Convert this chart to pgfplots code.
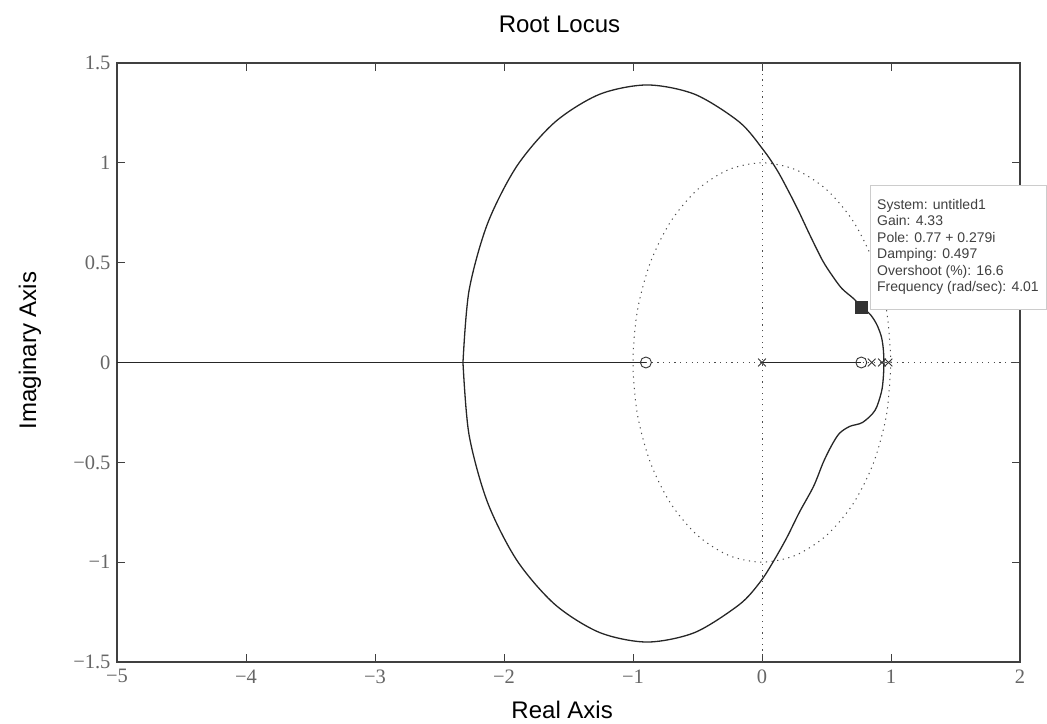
\documentclass[border=0pt]{standalone}
\usepackage{pgfplots}
\pgfplotsset{compat=1.18}
\usepackage{fontspec}
\setmainfont{Liberation Serif}
\newfontfamily\sans{Liberation Sans}
\begin{document}
\begin{tikzpicture}[x=1pt,y=1pt]
\useasboundingbox (-117,-61) rectangle (930,662);
\begin{axis}[
  at={(0,0)}, anchor=south west,
  scale only axis, width=903pt, height=599pt,
  xmin=-5, xmax=2, ymin=-1.5, ymax=1.5,
  xtick={-5,-4,-3,-2,-1,0,1,2},
  ytick={-1.5,-1,-0.5,0,0.5,1,1.5},
  xticklabels={−5,−4,−3,−2,−1,0,1,2},
  yticklabels={−1.5,−1,−0.5,0,0.5,1,1.5},
  tick align=inside, major tick length=8pt,
  ticklabel style={font=\fontsize{20.5}{20.5}\selectfont, text=black!60},
  xticklabel style={yshift=-4pt},
  yticklabel style={xshift=-3pt},
  axis line style={black!75, line width=1.2pt},
  tick style={black!75, line width=0.8pt},
  title={Root Locus},
  title style={font=\sans\fontsize{24}{24}\selectfont, at={(0.49,1)}, anchor=base, yshift=24pt},
  xlabel={Real Axis},
  xlabel style={font=\sans\fontsize{24}{24}\selectfont, at={(0.493,0)}, anchor=base, yshift=-56pt},
  ylabel={Imaginary Axis},
  ylabel style={font=\sans\fontsize{24}{24}\selectfont, at={(0,0.52)}, anchor=center, yshift=87pt},
  clip=false,
]
% dotted guides
\addplot[black!70, line width=1pt, dash pattern=on 1.2pt off 4.5pt] coordinates {(-0.9,0) (2,0)};
\addplot[black!70, line width=1pt, dash pattern=on 1.2pt off 4.5pt] coordinates {(0,-1.5) (0,1.5)};
\addplot[black!70, line width=1pt, dash pattern=on 1.2pt off 4.5pt, smooth] coordinates {
(1,0) (0.966,0.259) (0.866,0.5) (0.707,0.707) (0.5,0.866) (0.259,0.966) (0,1)
(-0.259,0.966) (-0.5,0.866) (-0.707,0.707) (-0.866,0.5) (-0.966,0.259) (-1,0)
(-0.966,-0.259) (-0.866,-0.5) (-0.707,-0.707) (-0.5,-0.866) (-0.259,-0.966) (0,-1)
(0.259,-0.966) (0.5,-0.866) (0.707,-0.707) (0.866,-0.5) (0.966,-0.259) (1,0)};
% real-axis locus
\addplot[black!85, line width=1.3pt] coordinates {(-5,0) (-0.9,0)};
\addplot[black!85, line width=1.3pt] coordinates {(0,0) (0.77,0)};
% complex locus
\addplot[black!85, line width=1.3pt, smooth] coordinates {
(-2.318,0) (-2.271,0.36) (-2.128,0.695) (-1.901,0.983) (-1.605,1.204) (-1.26,1.343)
(-0.89,1.39) (-0.52,1.343) (-0.175,1.204) (0.01,1.065) (0.12,0.96) (0.22,0.84)
(0.29,0.75) (0.37,0.64) (0.47,0.51) (0.55,0.43) (0.62,0.37) (0.71,0.32) (0.77,0.28)
(0.84,0.24) (0.89,0.19) (0.925,0.13) (0.94,0.07) (0.945,0)
(0.94,-0.08) (0.925,-0.15) (0.876,-0.24) (0.78,-0.30) (0.68,-0.32) (0.60,-0.355)
(0.54,-0.415) (0.475,-0.50) (0.40,-0.62) (0.29,-0.75) (0.19,-0.88) (0.085,-1.0)
(-0.015,-1.10) (-0.175,-1.212) (-0.52,-1.352) (-0.89,-1.40) (-1.26,-1.352)
(-1.605,-1.212) (-1.901,-0.99) (-2.128,-0.70) (-2.271,-0.362) (-2.318,0)};
% zeros
\addplot[only marks, mark=o, mark size=5.5pt, black!80, mark options={line width=0.9pt, fill=white}] coordinates {(-0.9,0) (0.77,0)};
% poles
\addplot[only marks, mark=x, mark size=5.5pt, black!80, mark options={line width=0.9pt}] coordinates {(0,0) (0.85,0) (0.93,0) (0.98,0)};
% data tip marker
\addplot[only marks, mark=square*, mark size=6pt, black!80] coordinates {(0.77,0.279)};
\node[anchor=north west, draw=black!20, fill=white, inner xsep=7pt, inner ysep=14pt, align=left,
      font=\sans\fontsize{14}{16.5}\selectfont, text=black!75]
  at (axis cs:0.837,0.889)
  {System: untitled1\\Gain: 4.33\\Pole: 0.77 + 0.279i\\Damping: 0.497\\Overshoot (\%): 16.6\\Frequency (rad/sec): 4.01};
\end{axis}
\end{tikzpicture}
\end{document}
